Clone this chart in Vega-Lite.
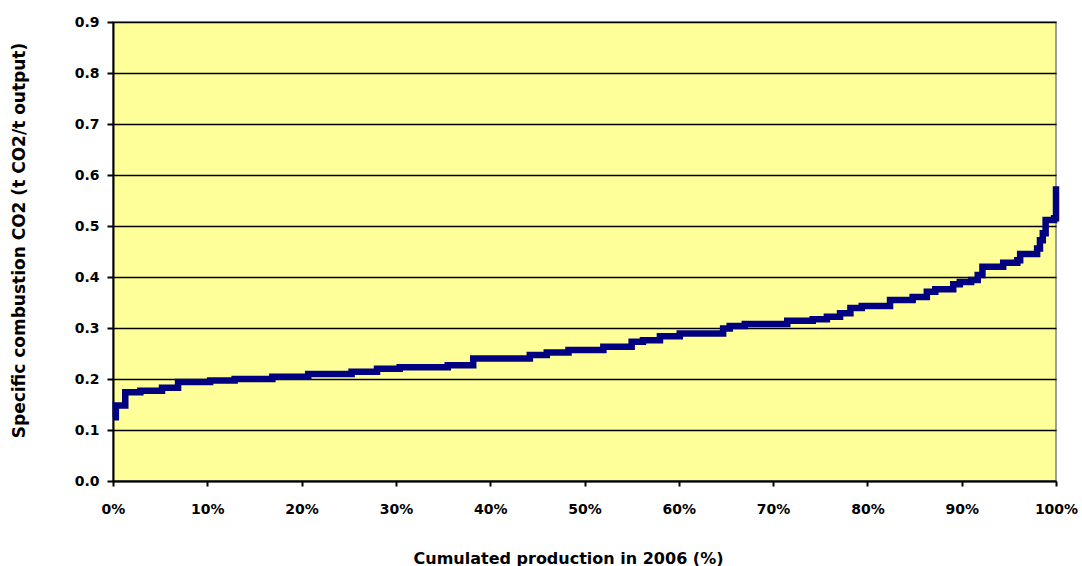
{
  "$schema": "https://vega.github.io/schema/vega-lite/v6.json",
  "autosize": "none",
  "padding": {"left": 113, "top": 22, "right": 26, "bottom": 85},
  "width": 943,
  "height": 459,
  "background": "white",
  "view": {"fill": "#FFFF99", "stroke": "#808080", "strokeWidth": 1.5},
  "data": {"values": [
    {"share": 0.000, "co2": 0.125},
    {"share": 0.003, "co2": 0.148},
    {"share": 0.013, "co2": 0.174},
    {"share": 0.029, "co2": 0.177},
    {"share": 0.052, "co2": 0.183},
    {"share": 0.069, "co2": 0.194},
    {"share": 0.103, "co2": 0.197},
    {"share": 0.129, "co2": 0.200},
    {"share": 0.169, "co2": 0.2045},
    {"share": 0.207, "co2": 0.210},
    {"share": 0.253, "co2": 0.214},
    {"share": 0.280, "co2": 0.220},
    {"share": 0.304, "co2": 0.223},
    {"share": 0.355, "co2": 0.227},
    {"share": 0.382, "co2": 0.240},
    {"share": 0.442, "co2": 0.247},
    {"share": 0.460, "co2": 0.252},
    {"share": 0.483, "co2": 0.257},
    {"share": 0.520, "co2": 0.263},
    {"share": 0.550, "co2": 0.273},
    {"share": 0.562, "co2": 0.276},
    {"share": 0.580, "co2": 0.284},
    {"share": 0.601, "co2": 0.289},
    {"share": 0.647, "co2": 0.299},
    {"share": 0.654, "co2": 0.304},
    {"share": 0.670, "co2": 0.308},
    {"share": 0.715, "co2": 0.314},
    {"share": 0.742, "co2": 0.317},
    {"share": 0.757, "co2": 0.322},
    {"share": 0.771, "co2": 0.329},
    {"share": 0.782, "co2": 0.339},
    {"share": 0.794, "co2": 0.343},
    {"share": 0.824, "co2": 0.355},
    {"share": 0.848, "co2": 0.361},
    {"share": 0.863, "co2": 0.371},
    {"share": 0.872, "co2": 0.376},
    {"share": 0.891, "co2": 0.386},
    {"share": 0.898, "co2": 0.390},
    {"share": 0.910, "co2": 0.394},
    {"share": 0.917, "co2": 0.404},
    {"share": 0.922, "co2": 0.420},
    {"share": 0.944, "co2": 0.428},
    {"share": 0.959, "co2": 0.433},
    {"share": 0.962, "co2": 0.445},
    {"share": 0.980, "co2": 0.456},
    {"share": 0.983, "co2": 0.472},
    {"share": 0.986, "co2": 0.486},
    {"share": 0.989, "co2": 0.512},
    {"share": 0.998, "co2": 0.515},
    {"share": 1.000, "co2": 0.578}
  ]},
  "mark": {"type": "line", "interpolate": "step-after", "color": "#000080", "strokeWidth": 6.5, "strokeCap": "butt", "clip": false},
  "encoding": {
    "x": {
      "field": "share", "type": "quantitative",
      "scale": {"domain": [0, 1], "nice": false, "zero": false},
      "axis": {
        "title": "Cumulated production in 2006 (%)",
        "values": [0, 0.1, 0.2, 0.3, 0.4, 0.5, 0.6, 0.7, 0.8, 0.9, 1],
        "format": ".0%",
        "grid": false,
        "domainColor": "black", "domainWidth": 2,
        "tickColor": "black", "tickWidth": 2, "tickSize": 5,
        "labelFont": "DejaVu Sans", "labelFontWeight": "bold", "labelFontSize": 14, "labelColor": "black",
        "labelPadding": 16, "labelFlush": false,
        "titleFont": "DejaVu Sans", "titleFontWeight": "bold", "titleFontSize": 16, "titleColor": "black",
        "titlePadding": 34, "titleX": 455
      }
    },
    "y": {
      "field": "co2", "type": "quantitative",
      "scale": {"domain": [0, 0.9], "nice": false, "zero": false},
      "axis": {
        "title": "Specific combustion CO2 (t CO2/t output)",
        "values": [0, 0.1, 0.2, 0.3, 0.4, 0.5, 0.6, 0.7, 0.8, 0.9],
        "format": ".1f",
        "grid": true, "gridColor": "black", "gridWidth": 1.5, "gridOpacity": 1,
        "domainColor": "black", "domainWidth": 2,
        "tickColor": "black", "tickWidth": 2, "tickSize": 6,
        "labelFont": "DejaVu Sans", "labelFontWeight": "bold", "labelFontSize": 14, "labelColor": "black",
        "labelPadding": 8,
        "titleFont": "DejaVu Sans", "titleFontWeight": "bold", "titleFontSize": 17, "titleColor": "black",
        "titlePadding": 46, "titleY": 218
      }
    }
  }
}
